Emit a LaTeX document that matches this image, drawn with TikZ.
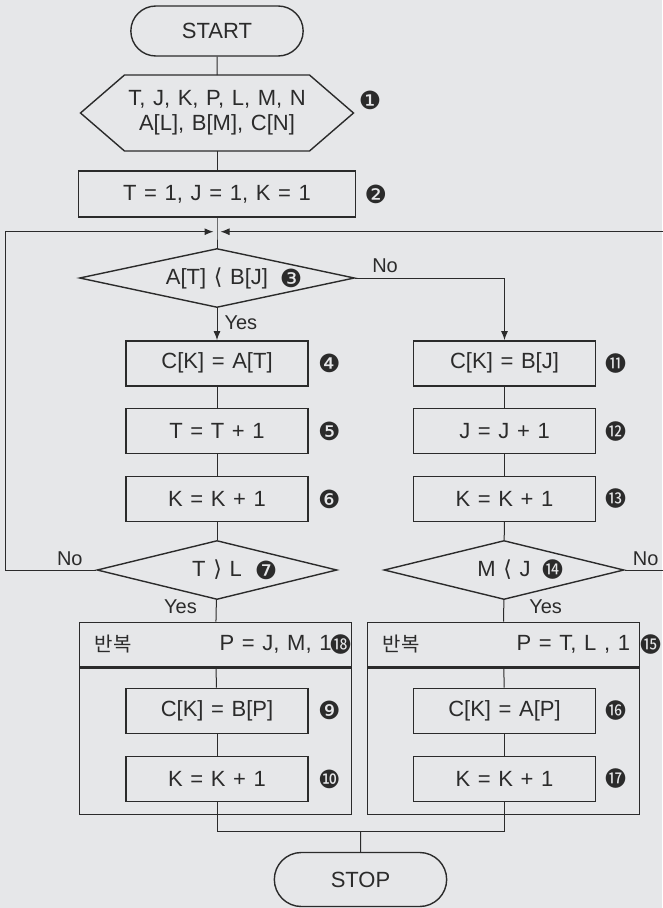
\documentclass[tikz,border=0pt]{standalone}
\usepackage{fontspec}
\setmainfont[WordSpace=1.25]{Liberation Sans}
\newfontfamily\numfont{DejaVu Sans}
\newfontfamily\krfont{Noto Sans CJK KR}
\usetikzlibrary{arrows.meta,positioning,calc,shapes.geometric,shapes.misc}
\definecolor{PaperGray}{HTML}{E6E7E9}
\definecolor{InkGray}{HTML}{2B2B2B}

\begin{document}
\begin{tikzpicture}[x=1pt,y=-1pt,color=InkGray,line width=1pt,
  font=\fontsize{22}{25}\selectfont,
  term/.style={rounded rectangle,draw,line width=1.4pt,minimum width=179pt,minimum height=50pt},
  proc/.style={rectangle,draw,line width=1.4pt,minimum width=182pt,minimum height=45pt,inner sep=0pt},
  cond/.style={diamond,draw,line width=1.4pt,inner sep=0pt,aspect=4.66,minimum width=275pt,minimum height=59pt},
  loopbox/.style={rectangle,draw,line width=1.4pt,minimum width=272pt,inner sep=0pt},
  num/.style={font=\numfont\fontsize{25}{25}\selectfont,inner sep=0pt},
  knum/.style={font=\krfont\fontsize{21}{21}\selectfont,inner sep=0pt},
  tag/.style={font=\fontsize{20}{22}\selectfont,inner sep=1pt},
  flow/.style={-{Latex[length=9pt,width=7pt]}}]
  \useasboundingbox (0,0) rectangle (662,908);
  \fill[PaperGray] (0,0) rectangle (662,908);
  % main column
  \node[term] (start) at (217,31) {START};
  \node[minimum width=272pt,minimum height=75pt,align=center,inner sep=0pt] (input) at (217,113)
    {T, J, K, P, L, M, N\\A[L], B[M], C[N]};
  \draw[line width=1.4pt] (input.west) -- ($(input.north west)+(44,0)$) -- ($(input.north east)+(-44,0)$)
    -- (input.east) -- ($(input.south east)+(-44,0)$) -- ($(input.south west)+(44,0)$) -- cycle;
  \node[num] (n1) at (370,100) {❶};
  \node[proc,minimum width=277pt,minimum height=46pt] (init) at (217,194) {T = 1, J = 1, K = 1};
  \node[num,right=8pt of init] (n2) {❷};
  \coordinate (join) at (217,231.7);
  \coordinate (lrail) at (5,231.7);
  \coordinate (rrail) at (663,231.7);
  \node[cond] (cmp) at (217,278) {A[T] {\numfont ⟨} B[J]};
  \node[num] (n3) at ($(cmp)+(74,0)$) {❸};
  % left branch
  \node[proc] (b4) at (217,363.3) {C[K] = A[T]};
  \node[proc,below=21.4pt of b4] (b5) {T = T + 1};
  \node[proc,below=21.4pt of b5] (b6) {K = K + 1};
  \node[cond,aspect=4.05,minimum width=240pt] (tl) at (217,570) {T {\numfont ⟩} L};
  \node[num] (n7) at ($(tl)+(49,0)$) {❼};
  \foreach \b/\n in {b4/❹,b5/❺,b6/❻}{
    \node[num,right=9pt of \b] {\n};
  }
  % right branch
  \node[proc] (b11) at (504.5,363.3) {C[K] = B[J]};
  \node[proc,below=21.4pt of b11] (b12) {J = J + 1};
  \node[proc,below=21.4pt of b12] (b13) {K = K + 1};
  \node[cond,aspect=4.05,minimum width=240pt] (mj) at (504,570) {M {\numfont ⟨} J};
  \node[knum] (n14) at ($(mj)+(49,0)$) {⓮};
  \foreach \b/\n in {b11/⓫,b12/⓬,b13/⓭}{
    \node[knum,right=9pt of \b] {\n};
  }
  % repeat blocks
  \node[loopbox,minimum height=44.4pt] (headA) at (215.5,644.5) {};
  \node[loopbox,minimum height=146.6pt,anchor=north] (bodyA) at (headA.south) {};
  \node[anchor=west,font=\krfont\fontsize{20}{22}\selectfont] (repA) at ($(headA.west)+(12,0)$) {반복};
  \node[anchor=west] (rangeA) at ($(headA.west)+(137,0)$) {P = J, M, 1};
  \node[knum] (n8) at (341,645) {⓲};
  \node[loopbox,minimum height=44.4pt] (headB) at (503.5,644.5) {};
  \node[loopbox,minimum height=146.6pt,anchor=north] (bodyB) at (headB.south) {};
  \node[anchor=west,font=\krfont\fontsize{20}{22}\selectfont] (repB) at ($(headB.west)+(12,0)$) {반복};
  \node[anchor=west] (rangeB) at ($(headB.west)+(146,0)$) {P = T, L , 1};
  \node[knum] (n15) at (651,645) {⓯};
  \node[proc] (b9) at (217,710.8) {C[K] = B[P]};
  \node[proc,below=21.7pt of b9] (b10) {K = K + 1};
  \node[proc] (b16) at (504.5,710.8) {C[K] = A[P]};
  \node[proc,below=21.7pt of b16] (b17) {K = K + 1};
  \foreach \b/\n in {b9/❾,b10/❿}{
    \node[num,right=9pt of \b] {\n};
  }
  \foreach \b/\n in {b16/⓰,b17/⓱}{
    \node[knum,right=9pt of \b] {\n};
  }
  \coordinate (merge) at (360.5,831.7);
  \node[term,minimum height=54pt] (stop) at (360.5,879.5) {STOP};
  % connectors
  \draw (start) -- (input);
  \draw (input) -- (init);
  \draw (init) -- (join) -- (cmp);
  \draw[flow] (cmp) -- node[tag,right=6pt,pos=0.45]{Yes} (b4);
  \draw[flow] (cmp.east) -| node[tag,above=4pt,pos=0.1]{No} (b11.north);
  \draw (b4) -- (b5);
  \draw (b5) -- (b6);
  \draw (b6) -- (tl);
  \draw[flow,shorten >=3.5pt] (tl.west) -- node[tag,above=3pt,pos=0.29]{No} (tl.west -| lrail) -- (lrail) -- (join);
  \draw (tl) -- node[tag,left=18pt,pos=0.3]{Yes} (headA);
  \draw (b11) -- (b12);
  \draw (b12) -- (b13);
  \draw (b13) -- (mj);
  \draw[flow,shorten >=3.5pt] (mj.east) -- node[tag,above=3pt,pos=0.55]{No} (mj.east -| rrail) -- (rrail) -- (join);
  \draw (mj) -- node[tag,right=24pt,pos=0.3]{Yes} (headB);
  \draw (headA) -- (b9);
  \draw (b9) -- (b10);
  \draw (headB) -- (b16);
  \draw (b16) -- (b17);
  \draw (b10.south) |- (merge) -| (b17.south);
  \draw (merge) -- (stop);
\end{tikzpicture}
\end{document}
